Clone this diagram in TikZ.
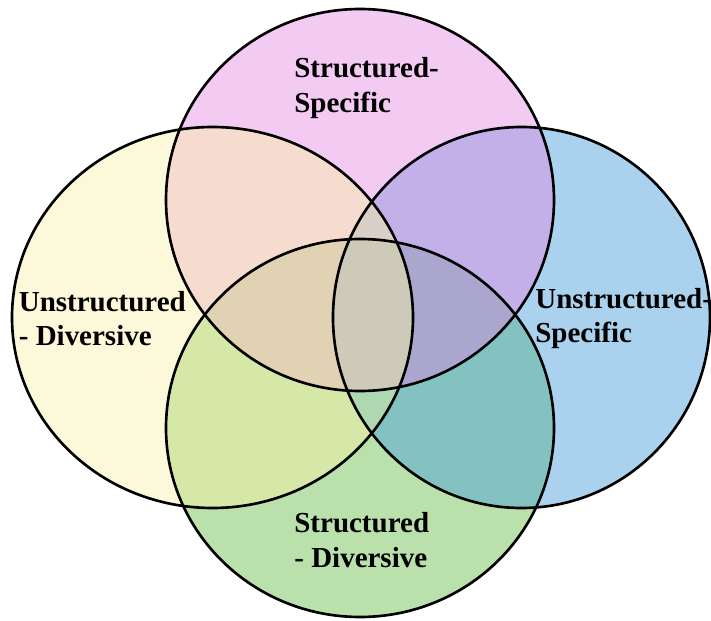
\documentclass[tikz,border=0pt]{standalone}
\usepackage{fontspec}
\setmainfont{Liberation Serif}
\usepackage{tikz}

\tikzset{
  setT/.style={insert path={(7.2,8.4) ellipse [x radius=3.88, y radius=3.82]}},
  setL/.style={insert path={(4.25,6.05) ellipse [x radius=4.01, y radius=3.81]}},
  setR/.style={insert path={(10.43,6.05) ellipse [x radius=3.77, y radius=3.81]}},
  setB/.style={insert path={(7.2,3.84) ellipse [x radius=3.88, y radius=3.78]}},
  setlabel/.style={anchor=west, align=left, inner sep=0pt, font=\bfseries\fontsize{16.5}{19.5}\selectfont}
}

\begin{document}
\begin{tikzpicture}
% Four overlapping sets
\definecolor{pinkc}{RGB}{242,202,242}
\definecolor{yellowc}{RGB}{252,249,218}
\definecolor{bluec}{RGB}{170,210,238}
\definecolor{greenc}{RGB}{186,224,172}
\definecolor{tlc}{RGB}{245,220,206}
\definecolor{trc}{RGB}{196,176,232}
\definecolor{blc}{RGB}{214,232,168}
\definecolor{brc}{RGB}{132,194,194}
\definecolor{tblc}{RGB}{224,210,178}
\definecolor{tbrc}{RGB}{170,166,206}
\definecolor{tlrc}{RGB}{218,208,200}
\definecolor{blrc}{RGB}{176,216,176}
\definecolor{allc}{RGB}{206,202,186}

\useasboundingbox (0,0) rectangle (14.22,12.4);

% Single sets
\fill[yellowc, setL];
\fill[bluec, setR];
\fill[pinkc, setT];
\fill[greenc, setB];

% Pairs
\begin{scope} \clip[setT]; \fill[tlc, setL]; \end{scope}
\begin{scope} \clip[setT]; \fill[trc, setR]; \end{scope}
\begin{scope} \clip[setB]; \fill[blc, setL]; \end{scope}
\begin{scope} \clip[setB]; \fill[brc, setR]; \end{scope}

% Triples
\begin{scope} \clip[setT]; \clip[setB]; \fill[tblc, setL]; \end{scope}
\begin{scope} \clip[setT]; \clip[setB]; \fill[tbrc, setR]; \end{scope}
\begin{scope} \clip[setL]; \clip[setR]; \fill[tlrc, setT]; \end{scope}
\begin{scope} \clip[setL]; \clip[setR]; \fill[blrc, setB]; \end{scope}

% All four
\begin{scope} \clip[setT]; \clip[setB]; \clip[setL]; \fill[allc, setR]; \end{scope}

% Outlines
\foreach \s in {setL, setR, setT, setB} {
    \draw[line width=1.5pt, \s];
}

% Labels
\node[setlabel] (ssLabel) at (5.88,10.64) {Structured-\\Specific};
\node[setlabel] (udLabel) at (0.37,6.03) {Unstructured\\- Diversive};
\node[setlabel] (usLabel) at (10.70,6.03) {Unstructured-\\Specific};
\node[setlabel] (sdLabel) at (5.88,1.6) {Structured\\- Diversive};

\end{tikzpicture}
\end{document}
